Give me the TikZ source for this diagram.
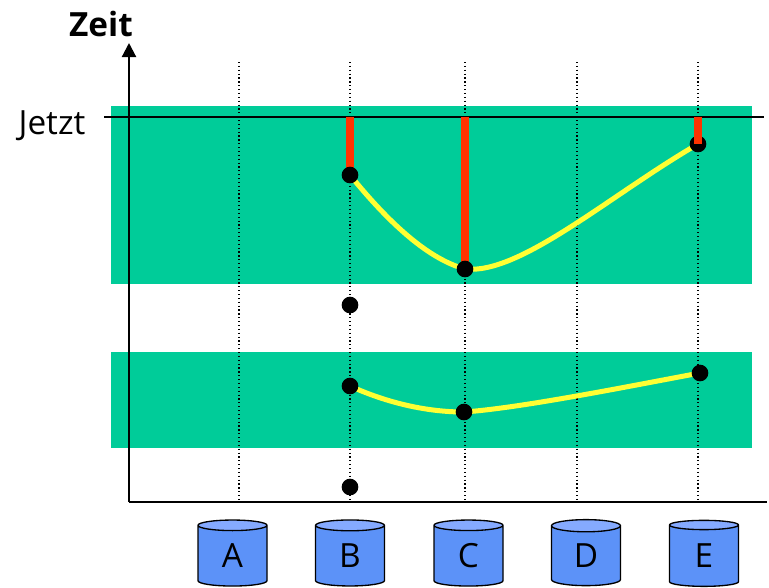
\documentclass[tikz,border=0pt]{standalone}
\usepackage{xcolor}
\usepackage{fontspec}
\setmainfont{Open Sans}
\usetikzlibrary{shapes.geometric,arrows.meta,positioning}
\definecolor{bandgreen}{RGB}{0,204,153}
\definecolor{curveyellow}{RGB}{255,255,51}
\definecolor{barred}{RGB}{255,51,0}
\definecolor{dbblue}{RGB}{92,146,248}
\definecolor{dbtop}{RGB}{133,170,255}
\tikzset{
  band/.style  ={fill=bandgreen},
  axis/.style  ={line width=1.6pt, -{Triangle[length=10.5pt, width=10.5pt]}},
  nowline/.style={line width=1.6pt},
  grid/.style  ={line width=0.9pt, dotted},
  curve/.style ={line width=3.75pt, draw=curveyellow},
  bar/.style   ={line width=5.5pt, draw=barred},
  dot/.style   ={circle, fill=black, minimum size=12.5pt, inner sep=0pt},
  db/.style    ={cylinder, shape border rotate=90, aspect=0.5, draw=black, line width=1pt,
                 cylinder uses custom fill, cylinder body fill=dbblue, cylinder end fill=dbtop,
                 minimum width=51.75pt, minimum height=49.5pt, inner sep=0pt,
                 font=\fontsize{25pt}{25pt}\selectfont}
}
\begin{document}
\begin{tikzpicture}[x=0.75pt, y=-0.75pt]
\useasboundingbox (0,0) rectangle (769,587);
% bands
\fill[band] (111,106) rectangle (752,284);
\fill[band] (111,352) rectangle (752,448);
% dotted columns
\foreach \x/\name in {239/a,350/b,465/c,577/d,698/e}{
  \coordinate (top\name) at (\x,62);
  \coordinate (bot\name) at (\x,502);
  \draw[grid] (top\name) -- (bot\name);
}
% axes
\coordinate (origin) at (129,502);
\coordinate (timetip) at (129,43);
\coordinate (xend) at (767,502);
\coordinate (nowleft) at (104,117);
\coordinate (nowright) at (764,117);
\draw[axis] (origin) -- (timetip);
\draw[nowline] (origin) -- (xend);
\draw[nowline] (nowleft) -- (nowright);
\node[font=\fontsize{25pt}{25pt}\selectfont\bfseries] (zeit) at (101,24) {Zeit};
\node[font=\fontsize{25pt}{25pt}\selectfont] (jetzt) at (52,126) {Jetzt};
% points
\coordinate (nowb) at (350,117);
\coordinate (nowc) at (465,117);
\coordinate (nowe) at (698,117);
\coordinate (pba) at (350,175);
\coordinate (pca) at (465,269);
\coordinate (pea) at (698,144);
\coordinate (pbc) at (350,386);
\coordinate (pcb) at (464,412);
\coordinate (peb) at (700,373);
\draw[curve] (pba) .. controls (385,218) and (425,258) .. (pca)
             .. controls (520,275) and (610,195) .. (pea);
\draw[curve] (pbc) .. controls (385,402) and (425,412) .. (pcb)
             .. controls (520,408) and (620,388) .. (peb);
\node[dot] (dotea) at (pea) {};
\draw[bar] (nowb) -- (pba);
\draw[bar] (nowc) -- (pca);
\draw[bar] (nowe) -- (pea);
\node[dot] (dotba) at (pba) {};
\node[dot] (dotbb) at (350,305) {};
\node[dot] (dotbc) at (pbc) {};
\node[dot] (dotbd) at (350,487) {};
\node[dot] (dotca) at (pca) {};
\node[dot] (dotcb) at (pcb) {};
\node[dot] (doteb) at (peb) {};
% databases
\node[db] (dba) at (232.5,556) {A};
\node[db] (dbb) at (350,556) {B};
\node[db] (dbc) at (468.5,556) {C};
\node[db] (dbd) at (586,556) {D};
\node[db] (dbe) at (704,556) {E};
\end{tikzpicture}
\end{document}
